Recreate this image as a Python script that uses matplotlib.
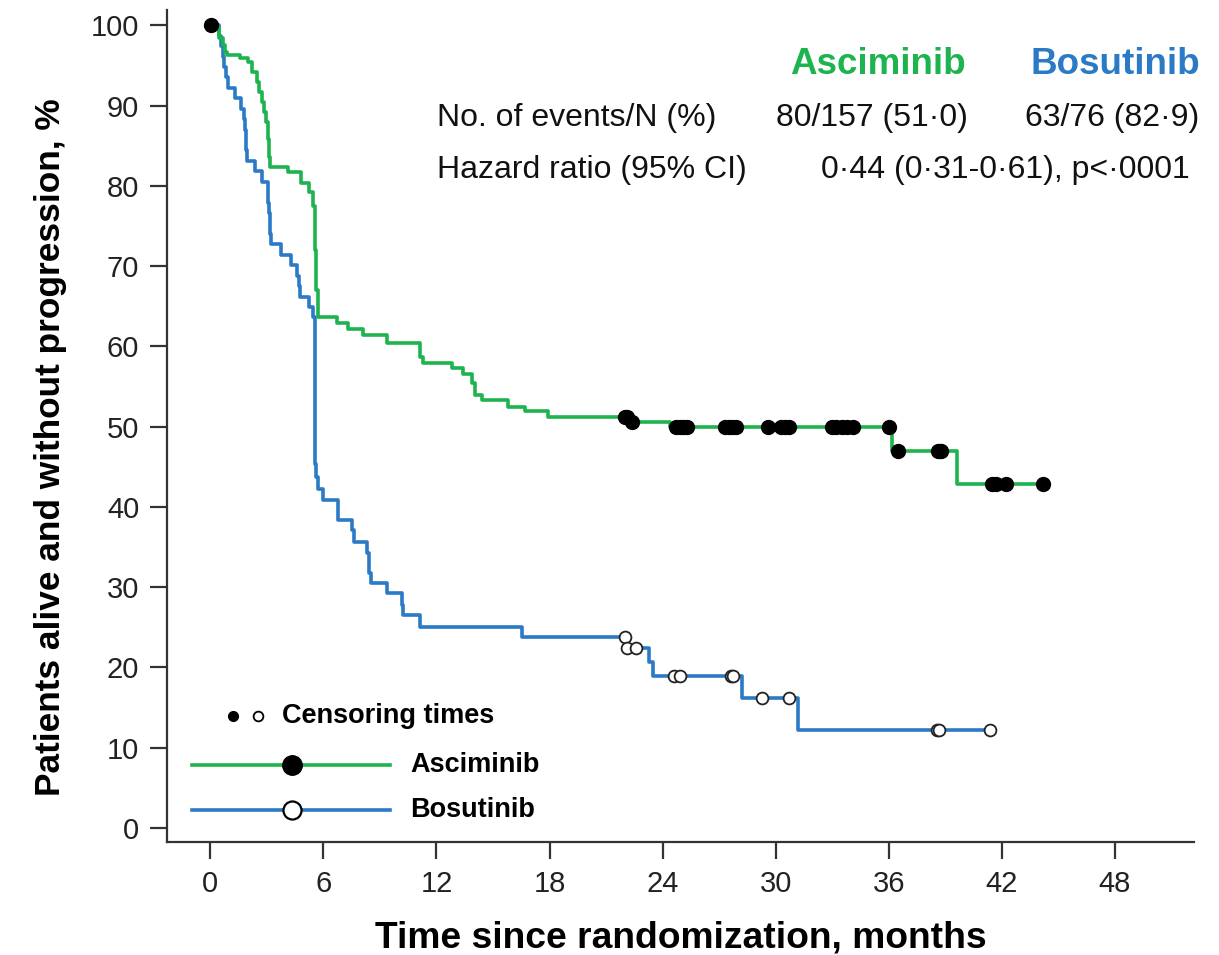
import numpy as np
import matplotlib
matplotlib.use("Agg")
import matplotlib.pyplot as plt
from matplotlib.lines import Line2D

plt.rcParams['font.family'] = ['Liberation Sans', 'DejaVu Sans']

# ---------------- data ----------------
asc_time = [0, 0.15, 0.45, 0.65, 0.8, 0.9, 1.6, 2.0, 2.2, 2.45, 2.6, 2.75, 2.85,
            2.95, 3.05, 3.1, 3.15, 4.1, 4.8, 5.25, 5.45, 5.55, 5.6, 5.7, 6.7,
            7.3, 8.1, 9.4, 11.1, 11.3, 12.8, 13.4, 13.9, 14.05, 14.4, 15.8,
            16.7, 17.9, 22.3, 24.4, 36.2, 39.6]
asc_surv = [100, 99.6, 98.4, 97.6, 96.7, 96.3, 95.9, 95.4, 94.2, 92.9, 91.7, 90.5,
            89.2, 87.9, 85.8, 83.6, 82.4, 81.7, 80.4, 79.2, 77.5, 72.0, 67.0,
            63.7, 62.9, 62.2, 61.4, 60.4, 58.7, 57.9, 57.3, 56.6, 55.4, 53.9,
            53.3, 52.5, 52.0, 51.2, 50.6, 49.9, 47.0, 42.8]
asc_end = 44.2
asc_censor = [0.05, 22.0, 22.1, 22.4, 24.7, 24.9, 25.1, 25.3, 27.3, 27.5, 27.7,
              27.9, 29.6, 30.3, 30.5, 30.7, 33.0, 33.2, 33.5, 33.8, 34.1, 36.0,
              36.5, 38.6, 38.7, 38.8, 41.5, 41.7, 42.2, 44.2]

bos_time = [0, 0.45, 0.55, 0.65, 0.75, 0.85, 0.95, 1.3, 1.65, 1.78, 1.85, 1.88,
            1.9, 1.93, 2.35, 2.75, 3.05, 3.08, 3.12, 3.15, 3.18, 3.22, 3.75,
            4.3, 4.6, 4.7, 4.75, 5.25, 5.45, 5.57, 5.62, 5.7, 6.0, 6.77, 7.5,
            7.65, 8.3, 8.4, 8.55, 9.39, 10.15, 10.2, 11.14, 16.55, 22.05,
            23.3, 23.5, 28.2, 31.2]
bos_surv = [100, 98.7, 97.4, 96.1, 94.8, 93.5, 92.2, 90.9, 89.6, 88.3, 87.0,
            85.7, 84.4, 83.1, 81.8, 80.5, 79.2, 77.9, 76.6, 75.3, 74.0, 72.7,
            71.4, 70.1, 68.8, 67.5, 66.2, 64.9, 63.6, 45.4, 43.7, 42.2, 40.8,
            38.4, 37.1, 35.6, 34.2, 31.7, 30.5, 29.3, 27.8, 26.5, 25.0, 23.8,
            22.4, 20.7, 18.9, 16.2, 12.2]
bos_end = 41.4
bos_censor = [22.0, 22.1, 22.6, 24.6, 24.9, 27.65, 27.75, 29.3, 30.7, 38.55,
              38.65, 41.4]

x_ticks = [0, 6, 12, 18, 24, 30, 36, 42, 48]
y_ticks = [0, 10, 20, 30, 40, 50, 60, 70, 80, 90, 100]

GREEN = '#1DB34E'
BLUE = '#2A7AC6'
SPINE = '#333333'
LW = 2.6


def surv_at(times, surv, t):
    idx = np.searchsorted(np.asarray(times), t, side='right') - 1
    return np.asarray(surv)[idx]


fig = plt.figure(figsize=(12.19, 9.55), dpi=100)
ax = fig.add_axes([167 / 1219, 1 - 842 / 955, 1027 / 1219, 832 / 955])

# curves
ax.step(bos_time + [bos_end], bos_surv + [bos_surv[-1]], where='post',
        color=BLUE, lw=LW, zorder=2)
ax.step(asc_time + [asc_end], asc_surv + [asc_surv[-1]], where='post',
        color=GREEN, lw=LW, zorder=3)

# censor marks
ax.plot(bos_censor, surv_at(bos_time, bos_surv, bos_censor), 'o', ms=8.5,
        mfc='white', mec='#222222', mew=1.3, ls='none', zorder=4)
ax.plot(asc_censor, surv_at(asc_time, asc_surv, asc_censor), 'o', ms=10,
        mfc='black', mec='black', ls='none', zorder=5)

ax.set_xlim(-2.3, 52.2)
ax.set_ylim(-1.75, 101.9)
ax.set_xticks(x_ticks)
ax.set_yticks(y_ticks)

for s in ['top', 'right']:
    ax.spines[s].set_visible(False)
for s in ['left', 'bottom']:
    ax.spines[s].set_color(SPINE)
    ax.spines[s].set_linewidth(1.6)
ax.tick_params(axis='both', colors=SPINE, length=12, width=1.6,
               labelsize=21, labelcolor='#222222')
ax.tick_params(axis='y', pad=8)
ax.tick_params(axis='x', pad=8)

ax.set_xlabel('Time since randomization, months', fontsize=26.8,
              fontweight='bold', labelpad=16)
ax.set_ylabel('Patients alive and without progression, %', fontsize=25.4,
              fontweight='bold')
ax.yaxis.set_label_coords(-0.097, 0.474)

# header table
tr = ax.transAxes
ax.text(0.6923, 0.9339, 'Asciminib', color=GREEN, fontsize=26.5,
        fontweight='bold', ha='center', va='center', transform=tr)
ax.text(0.9231, 0.9339, 'Bosutinib', color=BLUE, fontsize=26.5,
        fontweight='bold', ha='center', va='center', transform=tr)
ax.text(0.2629, 0.8702, 'No. of events/N (%)', fontsize=23,
        ha='left', va='center', transform=tr, color='#111111')
ax.text(0.6865, 0.8702, '80/157 (51\u00b70)', fontsize=23,
        ha='center', va='center', transform=tr, color='#111111')
ax.text(0.9202, 0.8702, '63/76 (82\u00b79)', fontsize=23,
        ha='center', va='center', transform=tr, color='#111111')
ax.text(0.2629, 0.8077, 'Hazard ratio (95% CI)', fontsize=23,
        ha='left', va='center', transform=tr, color='#111111')
ax.text(0.816, 0.8077, '0\u00b744 (0\u00b731-0\u00b761), p<\u00b70001', fontsize=23,
        ha='center', va='center', transform=tr, color='#111111')

# legend (manual)
ax.add_line(Line2D([0.0643], [0.1514], marker='o', ms=7, mfc='black',
                   mec='black', ls='none', transform=tr))
ax.add_line(Line2D([0.0886], [0.1514], marker='o', ms=7, mfc='white',
                   mec='black', mew=1.3, ls='none', transform=tr))
ax.text(0.112, 0.1514, 'Censoring times', fontsize=19.5, fontweight='bold',
        ha='left', va='center', transform=tr)
ax.add_line(Line2D([0.0243, 0.2171], [0.0925, 0.0925], color=GREEN, lw=LW,
                   transform=tr))
ax.add_line(Line2D([0.1217], [0.0925], marker='o', ms=14, mfc='black',
                   mec='black', ls='none', transform=tr))
ax.text(0.2366, 0.0925, 'Asciminib', fontsize=19.5, fontweight='bold',
        ha='left', va='center', transform=tr)
ax.add_line(Line2D([0.0243, 0.2171], [0.0385, 0.0385], color=BLUE, lw=LW,
                   transform=tr))
ax.add_line(Line2D([0.1217], [0.0385], marker='o', ms=13, mfc='white',
                   mec='black', mew=1.6, ls='none', transform=tr))
ax.text(0.2366, 0.0385, 'Bosutinib', fontsize=19.5, fontweight='bold',
        ha='left', va='center', transform=tr)

fig.savefig('out.png', dpi=100)
